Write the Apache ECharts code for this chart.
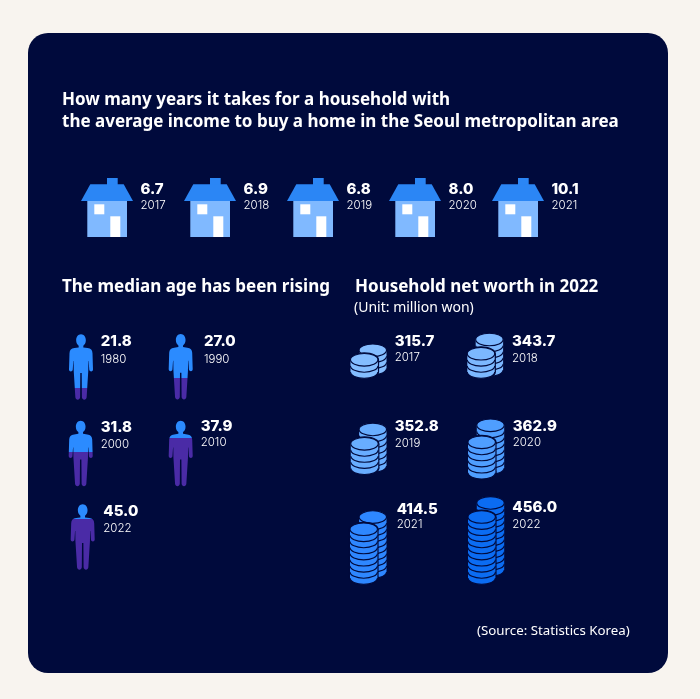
<!DOCTYPE html>
<html>
<head>
<meta charset="utf-8">
<title>Seoul household chart</title>
<style>
  html, body { margin: 0; padding: 0; background: #f8f4ef; }
  #chart { width: 700px; height: 699px; }
</style>
<script src="https://cdn.jsdelivr.net/npm/echarts@6/dist/echarts.min.js"></script>
</head>
<body>
<div id="chart"></div>
<script>
// 数据
const houseYears = ['2017', '2018', '2019', '2020', '2021']
const houseValues = [6.7, 6.9, 6.8, 8.0, 10.1]

const ageYears = ['1980', '1990', '2000', '2010', '2022']
const ageValues = [21.8, 27.0, 31.8, 37.9, 45.0]
const agePurpleShare = [0.178, 0.328, 0.525, 0.74, 0.77]

const worthYears = ['2017', '2018', '2019', '2020', '2021', '2022']
const worthValues = [315.7, 343.7, 352.8, 362.9, 414.5, 456.0]
const frontCoins = [2, 3, 4, 5, 8, 10]
const backCoins = [3, 5, 6, 7, 9, 11]

// 版面位置（像素坐标，经隐藏坐标轴换算）
const houseCx = [107, 210, 313, 415, 518]
const houseBase = 237
const houseLabelDx = 33.5

const personCx = [81, 180.7, 80.7, 180.7, 82.7]
const personTop = [334.3, 334, 420.7, 420.7, 504.3]
const personValueX = [100.7, 204, 100.7, 200.7, 103.3]
const personValueY = [341.7, 341.7, 427.3, 426, 511]
const personYearY = [359.3, 359.3, 444.3, 442.7, 528.3]

const coinFrontCx = [364.2, 481, 364.5, 481.7, 363.7, 481.7]
const coinFrontBase = [372, 372, 468.2, 472.8, 578, 578]
const coinBackCx = [372.8, 489.4, 372.8, 490.5, 372.8, 490.5]
const coinBackBase = [368.5, 370, 466, 468, 572, 570]
const coinValueX = [394.7, 512, 394.7, 512.7, 396.7, 512.3]
const coinValueY = [341.7, 341.7, 426.7, 426.7, 509, 507.7]
const coinYearY = [357.3, 358.7, 443.3, 443, 525, 524.3]
const coinColors = ['#84bdff', '#7cb8ff', '#68adff', '#4f9eff', '#2e87ff', '#0b6cf2']

const NAVY = '#000a3c'
const WHITE = '#ffffff'
const VALUE_FONT = 'Inter'
const TITLE_FONT = '"Noto Sans"'

const personPath = 'M12 0C15 0 16.8 2.8 16.8 6C16.8 8.8 15.5 10.6 14.3 11.5L14.3 13.2L18.5 13.8C21.8 14.2 23.2 15.8 23.4 19L23.9 35.5C23.9 38 20.6 38.2 20.2 35.8L19.6 27L19.3 27L19.2 37L17.6 63.5C17.3 66.8 13.2 66.8 12.9 63.5L12.7 39L11.3 39L11.1 63.5C10.8 66.8 6.7 66.8 6.4 63.5L4.8 37L4.7 27L4.4 27L3.8 35.8C3.4 38.2 0.1 38 0.1 35.5L0.6 19C0.8 15.8 2.2 14.2 5.5 13.8L9.7 13.2L9.7 11.5C8.5 10.6 7.2 8.8 7.2 6C7.2 2.8 9 0 12 0Z'

function textItem(text, x, y, size, weight) {
  return {
    type: 'text',
    style: {
      text, x, y,
      fill: WHITE,
      font: `${weight} ${size}px ${VALUE_FONT}`,
      textAlign: 'left',
      textVerticalAlign: 'middle'
    }
  }
}

function poly(points, fill) {
  return { type: 'polygon', shape: { points }, style: { fill } }
}

function box(x, y, width, height, fill) {
  return { type: 'rect', shape: { x, y, width, height }, style: { fill } }
}

// 房子
function renderHouse(params, api) {
  const i = params.dataIndex
  const [cx, base] = api.coord([houseCx[i], houseBase])
  const labelX = cx + houseLabelDx
  return {
    type: 'group',
    children: [
      box(cx, base - 59, 10.7, 7, '#2b86f5'),
      poly([[cx - 26, base - 36], [cx - 16.7, base - 52.7], [cx + 16.7, base - 52.7], [cx + 26, base - 36]], '#2b86f5'),
      box(cx - 19.7, base - 36, 39.7, 36, '#80b9ff'),
      box(cx - 12.7, base - 32.7, 10, 10, WHITE),
      box(cx + 3.3, base - 20.7, 10, 20.7, WHITE),
      textItem(api.value(1).toFixed(1), labelX, base - 48, 15, 800),
      textItem(houseYears[i], labelX, base - 31, 11.5, 300)
    ]
  }
}

// 人形
function renderPerson(params, api) {
  const i = params.dataIndex
  const [cx, top] = api.coord([personCx[i], personTop[i]])
  const stop = 1 - agePurpleShare[i]
  return {
    type: 'group',
    children: [
      {
        type: 'path',
        shape: { pathData: personPath, x: cx - 12, y: top, width: 24, height: 65.5, layout: 'cover' },
        style: {
          fill: {
            type: 'linear', x: 0, y: 0, x2: 0, y2: 1,
            colorStops: [
              { offset: 0, color: '#2b8bff' },
              { offset: stop, color: '#2b8bff' },
              { offset: stop, color: '#4a2ba6' },
              { offset: 1, color: '#4a2ba6' }
            ]
          }
        }
      },
      textItem(api.value(1).toFixed(1), personValueX[i], personValueY[i], 15, 800),
      textItem(ageYears[i], personValueX[i], personYearY[i], 11.5, 300)
    ]
  }
}

// 一摞硬币，由下往上
function coinStack(cx, base, count, color, gap) {
  const rx = 13.7
  const ry = 6.3
  const step = 6.1
  const topY = base - count * step
  const parts = []
  if (gap) {
    parts.push({ type: 'ellipse', shape: { cx, cy: base, rx: rx + gap, ry: ry + gap }, style: { fill: NAVY } })
    parts.push(box(cx - rx - gap, topY, 2 * (rx + gap), count * step, NAVY))
    parts.push({ type: 'ellipse', shape: { cx, cy: topY, rx: rx + gap, ry: ry + gap }, style: { fill: NAVY } })
  }
  for (let n = 0; n < count; n++) {
    const y = base - n * step
    parts.push({ type: 'ellipse', shape: { cx, cy: y, rx, ry }, style: { fill: color, stroke: NAVY, lineWidth: 1.1 } })
    parts.push(box(cx - rx, y - step, 2 * rx, step, color))
  }
  parts.push({ type: 'ellipse', shape: { cx, cy: topY, rx, ry }, style: { fill: color, stroke: NAVY, lineWidth: 1.1 } })
  return parts
}

function renderCoins(params, api) {
  const i = params.dataIndex
  const [backX, backBase] = api.coord([coinBackCx[i], coinBackBase[i]])
  const [frontX, frontBase] = api.coord([coinFrontCx[i], coinFrontBase[i]])
  return {
    type: 'group',
    children: [
      ...coinStack(backX, backBase, backCoins[i], coinColors[i], 0),
      ...coinStack(frontX, frontBase, frontCoins[i], coinColors[i], 1.2),
      textItem(api.value(1).toFixed(1), coinValueX[i], coinValueY[i], 15, 800),
      textItem(worthYears[i], coinValueX[i], coinYearY[i], 11.5, 300)
    ]
  }
}

function heading(text, left, top, size, weight) {
  return {
    text,
    left,
    top,
    padding: 0,
    textStyle: {
      color: WHITE,
      fontFamily: TITLE_FONT,
      fontSize: size,
      fontWeight: weight,
      lineHeight: 22
    }
  }
}

const chart = echarts.init(document.getElementById('chart'), null, { renderer: 'canvas' })

chart.setOption({
  animation: false,
  backgroundColor: '#f8f4ef',
  graphic: [{
    type: 'rect',
    z: -10,
    silent: true,
    shape: { x: 28, y: 33, width: 640, height: 640, r: 20 },
    style: { fill: NAVY }
  }],
  title: [
    heading('How many years it takes for a household with\nthe average income to buy a home in the Seoul metropolitan area', 62, 89, 17, 700),
    heading('The median age has been rising', 62, 276, 17, 700),
    heading('Household net worth in 2022', 355, 276, 17, 700),
    heading('(Unit: million won)', 354, 297, 14, 400),
    heading('(Source: Statistics Korea)', 477, 620, 13.3, 400)
  ],
  grid: { left: 0, right: 0, top: 0, bottom: 0 },
  xAxis: { type: 'value', min: 0, max: 700, show: false },
  yAxis: { type: 'value', min: 0, max: 699, inverse: true, show: false },
  series: [
    {
      type: 'custom',
      clip: false,
      silent: true,
      renderItem: renderHouse,
      data: houseValues.map((v, i) => [i, v])
    },
    {
      type: 'custom',
      clip: false,
      silent: true,
      renderItem: renderPerson,
      data: ageValues.map((v, i) => [i, v])
    },
    {
      type: 'custom',
      clip: false,
      silent: true,
      renderItem: renderCoins,
      data: worthValues.map((v, i) => [i, v])
    }
  ]
})

window.addEventListener('resize', () => chart.resize())
</script>
</body>
</html>
